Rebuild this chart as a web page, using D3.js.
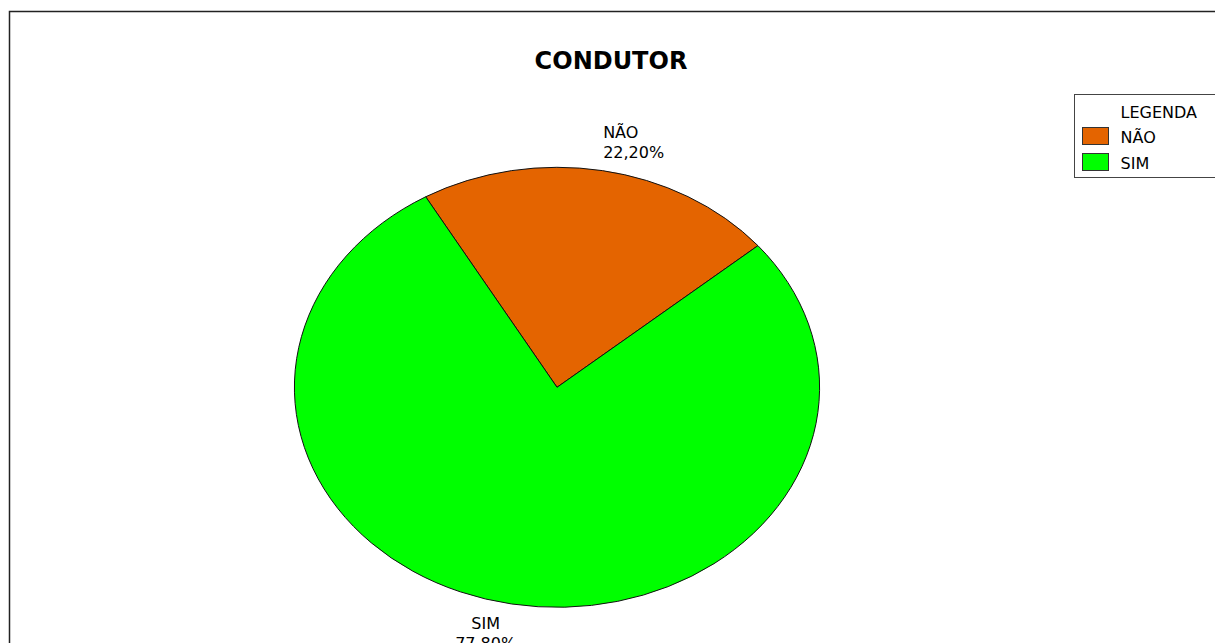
<!DOCTYPE html>
<html>
<head>
<meta charset="utf-8">
<script src="https://cdn.jsdelivr.net/npm/d3@7"></script>
<style>
  html, body { margin: 0; padding: 0; background: #fff; }
  svg { display: block; font-family: "DejaVu Sans", sans-serif; }
</style>
</head>
<body>
<svg id="chart" width="1215" height="643"></svg>
<script>
// Chart data
const categories = ["NÃO", "SIM"];
const values = [22.2, 77.8];
const labels = ["22,20%", "77,80%"];
const colors = ["#E46400", "#00FF00"];
const chartTitle = "CONDUTOR";
const legendTitle = "LEGENDA";

const svg = d3.select("#chart");
const W = 1215, H = 643;

// outer frame (runs off the right and bottom edges)
svg.append("rect")
  .attr("x", 9.5).attr("y", 11.5)
  .attr("width", W + 20).attr("height", H + 20)
  .attr("fill", "#fff").attr("stroke", "#222").attr("stroke-width", 1.5);

// title
svg.append("text")
  .attr("x", 611).attr("y", 69)
  .attr("text-anchor", "middle")
  .attr("font-size", 24).attr("font-weight", "bold")
  .attr("fill", "#000")
  .text(chartTitle);

// elliptical pie: circular arcs scaled horizontally
const cx = 557, cy = 387.3, ry = 220, rx = 262.6;
const sx = rx / ry;
const startAngle = -30 * Math.PI / 180;

const pie = d3.pie().sort(null).value(d => d)
  .startAngle(startAngle).endAngle(startAngle + 2 * Math.PI);
const arcs = pie(values);
const arc = d3.arc().innerRadius(0).outerRadius(ry);

const pieG = svg.append("g")
  .attr("transform", `translate(${cx},${cy}) scale(${sx},1)`);
pieG.selectAll("path")
  .data(arcs)
  .join("path")
  .attr("d", arc)
  .attr("fill", (d, i) => colors[i])
  .attr("stroke", "#111")
  .attr("stroke-width", 1)
  .attr("vector-effect", "non-scaling-stroke")
  .attr("stroke-linejoin", "round");

// slice labels outside the ellipse
const fs = 16;
arcs.forEach((d, i) => {
  const mid = (d.startAngle + d.endAngle) / 2;
  const top = Math.cos(mid) > 0;
  const k = top ? 1.06 : 1.13;
  const px = cx + Math.sin(mid) * rx * k;
  const py = cy - Math.cos(mid) * ry * k;
  const t = svg.append("text")
    .attr("font-size", fs).attr("fill", "#000")
    .attr("text-anchor", top ? "start" : "middle");
  const x0 = top ? px - 2 : px - 20;
  t.append("tspan").attr("x", x0).attr("y", top ? py - 20 : py - 3).text(categories[i]);
  t.append("tspan").attr("x", x0).attr("dy", 20).text(labels[i]);
});

// legend
const lg = svg.append("g").attr("transform", "translate(1074.5,94.5)");
lg.append("rect")
  .attr("width", 160).attr("height", 83)
  .attr("fill", "#fff").attr("stroke", "#444").attr("stroke-width", 1);
lg.append("text")
  .attr("x", 46).attr("y", 23)
  .attr("font-size", 16).attr("fill", "#000")
  .text(legendTitle);
const items = lg.selectAll("g.item")
  .data(categories)
  .join("g")
  .attr("class", "item")
  .attr("transform", (d, i) => `translate(8,${33 + i * 26})`);
items.append("rect")
  .attr("width", 26).attr("height", 17)
  .attr("fill", (d, i) => colors[i])
  .attr("stroke", "#333").attr("stroke-width", 1);
items.append("text")
  .attr("x", 38).attr("y", 15)
  .attr("font-size", 16).attr("fill", "#000")
  .text(d => d);
</script>
</body>
</html>
